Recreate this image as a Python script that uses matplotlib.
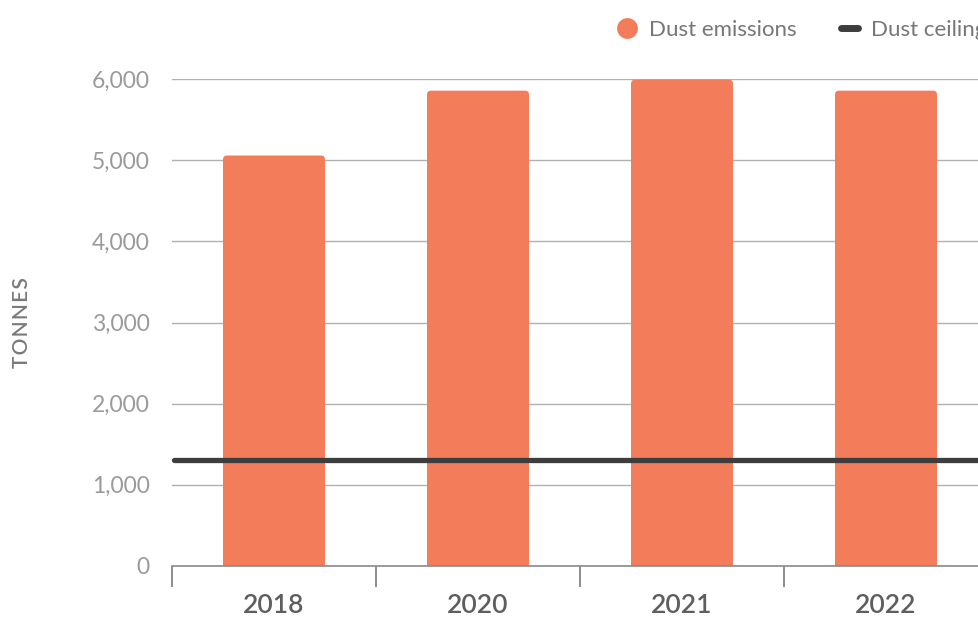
import numpy as np
import matplotlib.pyplot as plt
from matplotlib.patches import FancyBboxPatch
from matplotlib.lines import Line2D

years = ["2018", "2020", "2021", "2022"]
dust_emissions = [5060, 5860, 5995, 5860]
dust_ceiling = 1300
y_ticks = [0, 1000, 2000, 3000, 4000, 5000, 6000]

BAR_COLOR = "#F37D5A"
CEIL_COLOR = "#3D3D3D"
GRID_COLOR = "#B0B0B0"
TEXT_GRAY = "#9A9A9A"

plt.rcParams["font.family"] = ["Lato", "DejaVu Sans"]

W, H, DPI = 979, 617, 100
fig = plt.figure(figsize=(W / DPI, H / DPI), dpi=DPI)
# axes runs slightly past the right edge, as in the reference
ax = fig.add_axes([172 / W, 51.3 / H, 816 / W, 486.4 / H])

x = np.arange(len(years))
bar_width = 0.5
ax.set_xlim(-0.5, len(years) - 0.5)
ax.set_ylim(0, 6000)

# rounded-top bars: rounded box that starts below zero, clipped by the axes
px_x = (len(years)) / 816.0
px_y = 6000 / 486.4
radius = 4 * px_x
for xi, val in zip(x, dust_emissions):
    patch = FancyBboxPatch(
        (xi - bar_width / 2, -300), bar_width, val + 300,
        boxstyle=f"round,pad=0,rounding_size={radius}",
        mutation_aspect=px_y / px_x,
        facecolor=BAR_COLOR, edgecolor="none", zorder=2,
    )
    ax.add_patch(patch)

ax.plot([-0.5 + 2.5 * px_x, len(years) - 0.5], [dust_ceiling, dust_ceiling],
        color=CEIL_COLOR, linewidth=3.8, solid_capstyle="round", zorder=3,
        clip_on=False)

# grid
ax.set_yticks(y_ticks)
ax.set_yticklabels([f"{v:,}" for v in y_ticks])
ax.yaxis.grid(True, color=GRID_COLOR, linewidth=1.0, zorder=0)
ax.set_axisbelow(True)
ax.tick_params(axis="y", length=0, pad=16, labelsize=16.5, labelcolor=TEXT_GRAY)

# x: ticks at category boundaries, labels at centres
ax.set_xticks(np.arange(-0.5, len(years) - 0.5, 1.0))
ax.set_xticklabels([])
ax.tick_params(axis="x", which="major", length=15, width=1.2, color="#7A7A7A")
ax.set_xticks(x, minor=True)
ax.set_xticklabels(years, minor=True)
ax.tick_params(axis="x", which="minor", length=0, pad=20, labelsize=19,
               labelcolor="#5E5E5E")
for lbl in ax.get_xticklabels(minor=True):
    lbl.set_fontweight("semibold")

for side in ["left", "right", "top"]:
    ax.spines[side].set_visible(False)
ax.spines["bottom"].set_color("#8A8A8A")
ax.spines["bottom"].set_linewidth(1.2)

fig.text(22 / W, 1 - 323 / H, "T\u200aO\u200aN\u200aN\u200aE\u200aS", rotation=90,
         ha="center", va="center", fontsize=15, fontweight="semibold",
         color="#7A7A7A")

handles = [
    Line2D([], [], marker="o", linestyle="none", markersize=15,
           markerfacecolor=BAR_COLOR, markeredgecolor="none"),
    Line2D([], [], color=CEIL_COLOR, linewidth=5, solid_capstyle="round"),
]
fig.legend(handles, ["Dust emissions", "Dust ceiling"], loc="center left",
           bbox_to_anchor=(610 / W, 1 - 30 / H), ncol=2, frameon=False,
           fontsize=16, labelcolor="#777777", handlelength=0.75,
           handletextpad=0.6, columnspacing=2.0, borderaxespad=0)

fig.savefig("out.png", dpi=DPI)
